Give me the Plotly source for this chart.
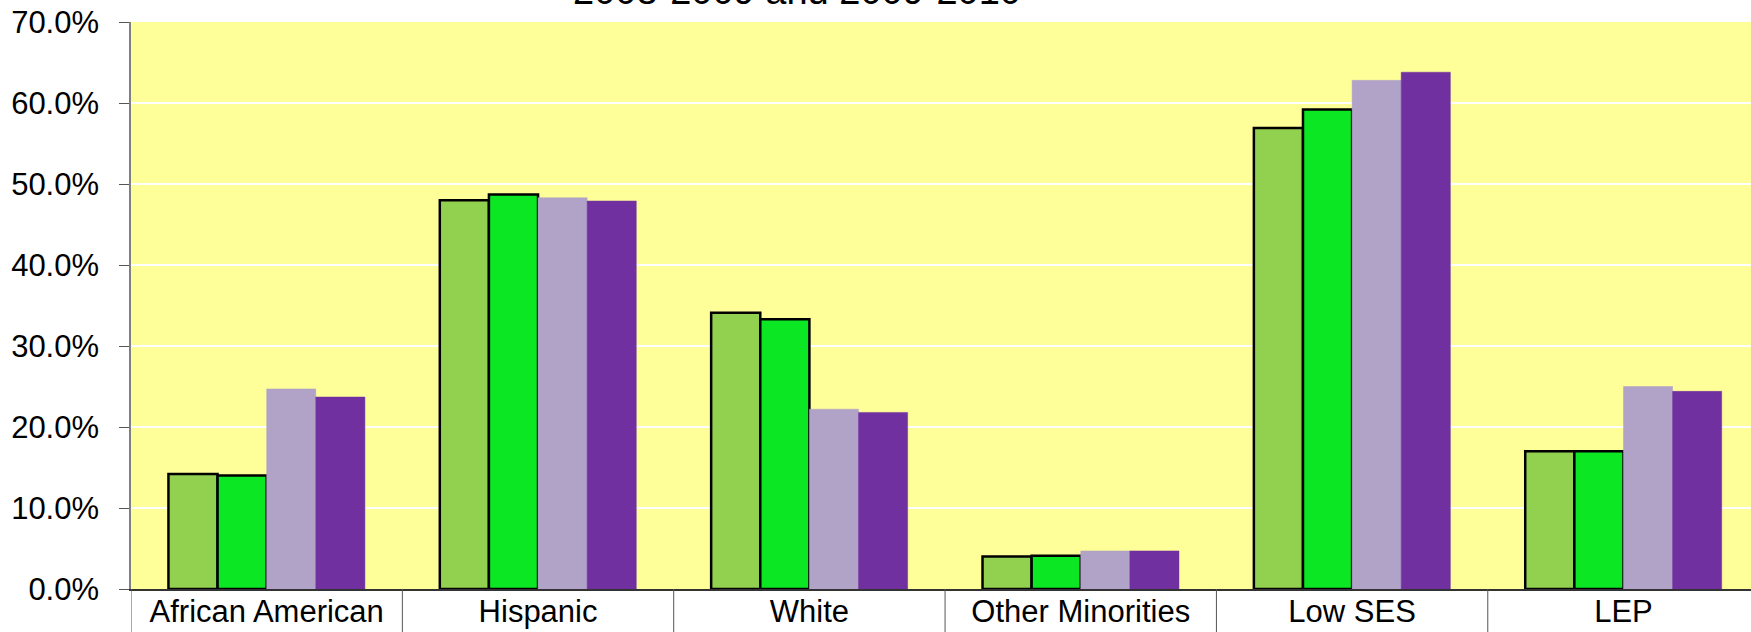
import plotly.graph_objects as go

# Student groups along the x axis
categories = ["African American", "Hispanic", "White", "Other Minorities", "Low SES", "LEP"]

# Percent of students in each group, per series
district_0809 = [14.2, 48.0, 34.1, 4.0, 56.9, 17.0]
district_0910 = [14.0, 48.7, 33.3, 4.1, 59.2, 17.0]
state_0809 = [24.7, 48.3, 22.2, 4.7, 62.8, 25.0]
state_0910 = [23.7, 47.9, 21.8, 4.7, 63.8, 24.4]

y_tick_values = [0, 10, 20, 30, 40, 50, 60, 70]
y_tick_labels = [f"{v:.1f}%" for v in y_tick_values]

title_text = "2008-2009 and 2009-2010"

series = [
    ("District 2008-2009", district_0809, "#92D050", dict(color="#000000", width=2.5)),
    ("District 2009-2010", district_0910, "#0BE823", dict(color="#000000", width=2.5)),
    ("State 2008-2009", state_0809, "#B1A2C8", dict(color="#B1A2C8", width=0.5)),
    ("State 2009-2010", state_0910, "#7030A0", dict(color="#7030A0", width=0.5)),
]

fig = go.Figure()
for name, values, color, line in series:
    fig.add_trace(go.Bar(
        x=categories, y=values, name=name,
        marker=dict(color=color, line=line),
    ))

W, H = 1751, 632
m_l, m_r, m_t, m_b = 131, 0, 22, 43
plot_h = H - m_t - m_b

# Vertical separators between category labels, hanging below the baseline
shapes = []
for i in range(len(categories) + 1):
    shapes.append(dict(
        type="line", xref="x", yref="paper",
        x0=i - 0.5, x1=i - 0.5, y0=0, y1=-m_b / plot_h,
        line=dict(color="#555555", width=1), layer="above",
    ))

fig.update_layout(
    width=W, height=H,
    margin=dict(l=m_l, r=m_r, t=m_t, b=m_b, pad=0, autoexpand=False),
    paper_bgcolor="#FFFFFF",
    plot_bgcolor="#FFFF99",
    barmode="group",
    bargap=0.276,
    bargroupgap=0,
    showlegend=False,
    font=dict(family="Liberation Sans, Arial, sans-serif", color="#000000"),
    shapes=shapes,
    annotations=[dict(
        text=title_text, xref="paper", yref="paper",
        x=(797 - m_l) / (W - m_l - m_r), y=1 + 8 / plot_h,
        xanchor="center", yanchor="bottom", showarrow=False,
        font=dict(size=38, color="#000000"),
    )],
    xaxis=dict(
        range=[-0.5, 5.47],
        automargin=False,
        showgrid=False,
        showline=True, linecolor="#333333", linewidth=2,
        ticks="", tickfont=dict(size=31, color="#000000"),
        ticklabelstandoff=-6,
        zeroline=False,
    ),
    yaxis=dict(
        range=[0, 70],
        automargin=False,
        tickvals=y_tick_values, ticktext=y_tick_labels,
        showgrid=True, gridcolor="#FFFFFF", gridwidth=2,
        showline=True, linecolor="#808080", linewidth=1.5,
        ticks="outside", ticklen=10, tickcolor="#555555", tickwidth=1,
        ticklabelstandoff=14,
        tickfont=dict(size=31, color="#000000"),
        zeroline=False,
    ),
)

fig.write_html("out.html")
